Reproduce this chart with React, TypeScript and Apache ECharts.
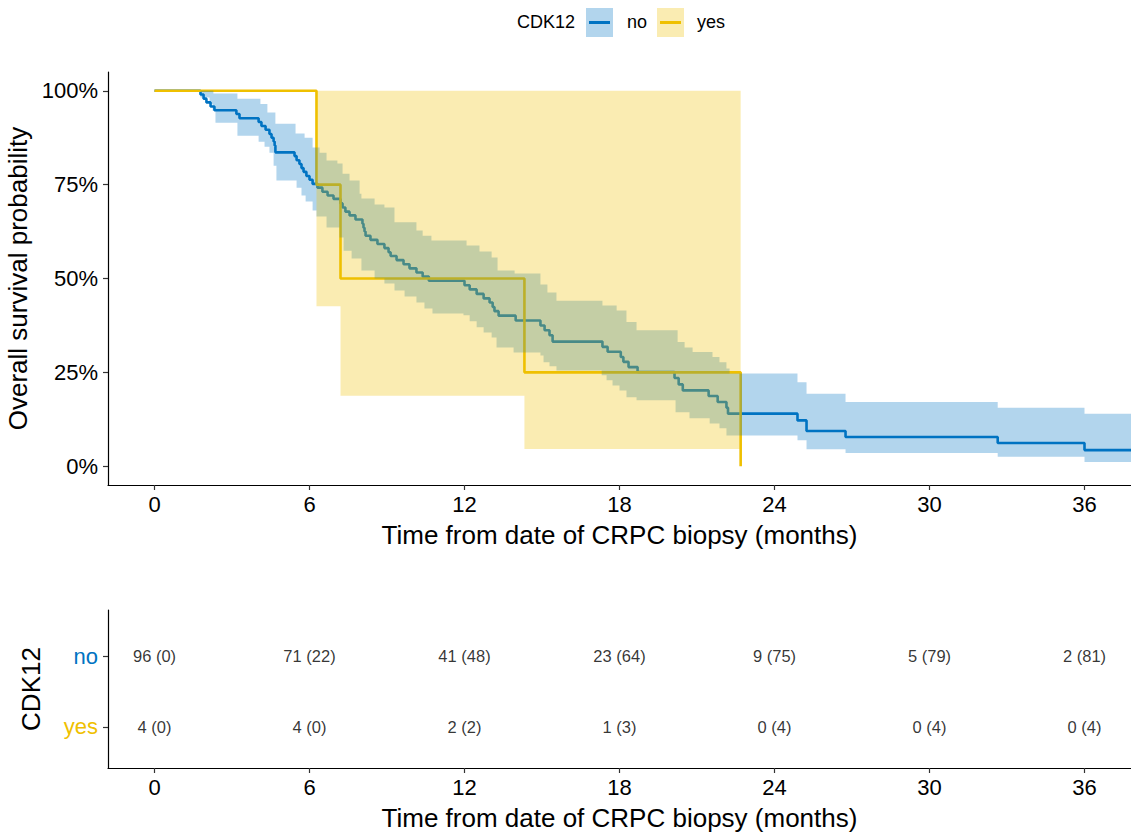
import React, { useEffect, useRef } from "react";
import * as echarts from "echarts";

// ---------- data ----------
const xTicks = [0, 6, 12, 18, 24, 30, 36];
const yTicks = [0, 0.25, 0.5, 0.75, 1];
const X_MIN = -1.8;
const X_MAX = 37.8;

const groupNames = ["no", "yes"];
const groupColors = ["#0073C2", "#EFC000"];
const bandColors = ["rgba(0,115,194,0.3)", "rgba(239,192,0,0.3)"];

// Kaplan-Meier curve, CDK12 = no : [months, survival]
const noCurve = [
  [0, 1], [1.78, 0.99], [1.9, 0.979], [2.01, 0.969], [2.17, 0.958], [2.32, 0.948],
  [3.17, 0.938], [3.29, 0.927], [4.03, 0.917], [4.14, 0.906], [4.3, 0.896], [4.45, 0.885],
  [4.53, 0.875], [4.61, 0.865], [4.65, 0.854], [4.68, 0.836], [5.42, 0.826], [5.5, 0.815],
  [5.61, 0.805], [5.69, 0.794], [5.77, 0.784], [5.88, 0.773], [6.0, 0.763], [6.12, 0.752],
  [6.31, 0.742], [6.5, 0.731], [6.7, 0.721], [6.93, 0.712], [7.2, 0.7], [7.28, 0.689],
  [7.39, 0.678], [7.55, 0.668], [7.78, 0.657], [8.05, 0.646], [8.09, 0.635], [8.13, 0.625],
  [8.17, 0.614], [8.36, 0.603], [8.63, 0.592], [8.9, 0.581], [9.06, 0.57], [9.14, 0.56],
  [9.37, 0.549], [9.64, 0.538], [9.87, 0.527], [10.14, 0.516], [10.38, 0.505], [10.62, 0.494],
  [12.0, 0.482], [12.2, 0.471], [12.47, 0.459], [12.74, 0.447], [12.97, 0.436], [13.09, 0.424],
  [13.16, 0.413], [13.32, 0.401], [13.98, 0.388], [14.94, 0.375], [15.1, 0.362], [15.29, 0.349],
  [15.41, 0.332], [17.34, 0.318], [17.54, 0.305], [18.05, 0.291], [18.15, 0.278], [18.35, 0.264],
  [18.7, 0.251], [20.13, 0.235], [20.29, 0.218], [20.45, 0.202], [21.45, 0.187], [21.8, 0.171],
  [22.14, 0.156], [22.2, 0.14], [24.89, 0.122], [25.24, 0.094], [26.75, 0.078], [32.64, 0.062],
  [36.0, 0.043], [37.8, 0.043],
];
const noUpper = [
  [1.78, 1.0], [2.28, 0.993], [3.21, 0.979], [4.1, 0.965], [4.37, 0.942], [4.68, 0.912],
  [5.46, 0.886], [5.81, 0.875], [6.12, 0.849], [6.39, 0.835], [6.66, 0.814], [7.08, 0.806],
  [7.28, 0.779], [7.55, 0.761], [7.94, 0.726], [8.01, 0.713], [8.52, 0.697], [8.9, 0.689],
  [9.29, 0.65], [10.14, 0.628], [10.38, 0.614], [10.72, 0.601], [12.08, 0.588], [12.58, 0.572],
  [13.05, 0.556], [13.28, 0.521], [13.94, 0.513], [14.94, 0.484], [15.21, 0.463], [15.56, 0.441],
  [17.34, 0.428], [17.89, 0.415], [18.27, 0.384], [18.66, 0.362], [20.25, 0.331], [20.52, 0.316],
  [20.83, 0.304], [21.6, 0.291], [21.87, 0.277], [22.14, 0.26], [22.26, 0.247], [24.89, 0.224],
  [25.24, 0.193], [26.75, 0.171], [32.64, 0.156], [36.0, 0.14],
];
const noLower = [
  [1.78, 0.982], [2.13, 0.965], [2.25, 0.947], [2.36, 0.915], [3.21, 0.88], [4.03, 0.864],
  [4.26, 0.851], [4.45, 0.835], [4.61, 0.8], [4.72, 0.761], [5.5, 0.742], [5.69, 0.721],
  [5.85, 0.705], [6.12, 0.681], [6.27, 0.665], [6.66, 0.636], [7.16, 0.609], [7.32, 0.574],
  [7.63, 0.553], [8.01, 0.521], [8.52, 0.5], [8.9, 0.487], [9.29, 0.468], [9.68, 0.452],
  [10.14, 0.436], [10.45, 0.42], [10.76, 0.407], [11.96, 0.402], [12.2, 0.386], [12.47, 0.37],
  [12.74, 0.356], [13.05, 0.343], [13.24, 0.316], [13.9, 0.303], [14.94, 0.295], [15.06, 0.277],
  [15.29, 0.266], [15.56, 0.255], [17.31, 0.242], [17.5, 0.229], [17.73, 0.215], [18.0, 0.202],
  [18.27, 0.184], [18.66, 0.176], [20.17, 0.144], [20.71, 0.128], [21.49, 0.114], [21.87, 0.101],
  [22.14, 0.082], [24.89, 0.069], [25.24, 0.045], [26.75, 0.035], [32.64, 0.025], [36.0, 0.011],
];
const noBandEnd = 37.8;

// Kaplan-Meier curve, CDK12 = yes
const yesCurve = [[0, 1], [6.27, 0.75], [7.2, 0.5], [14.32, 0.25], [22.69, 0]];
const yesUpper = [[6.27, 1], [7.2, 1], [14.32, 1]];
const yesLower = [[6.27, 0.426], [7.2, 0.188], [14.32, 0.046]];
const yesBandEnd = 22.69;

// number at risk (cumulative events)
const noAtRisk = [96, 71, 41, 23, 9, 5, 2];
const noEvents = [0, 22, 48, 64, 75, 79, 81];
const yesAtRisk = [4, 4, 2, 1, 0, 0, 0];
const yesEvents = [0, 0, 2, 3, 4, 4, 4];

const xTitle = "Time from date of CRPC biopsy (months)";
const yTitle = "Overall survival probability";
const strataTitle = "CDK12";

// ---------- helpers ----------
function stepPoints(arr: number[][], end: number) {
  const pts: number[][] = [];
  for (let i = 0; i < arr.length; i++) {
    const [t, v] = arr[i];
    const next = i + 1 < arr.length ? arr[i + 1][0] : end;
    pts.push([t, v]);
    pts.push([next, v]);
  }
  return pts;
}

function bandSeries(upper: number[][], lower: number[][], end: number, fill: string) {
  return {
    type: "custom",
    xAxisIndex: 0,
    yAxisIndex: 0,
    z: 3,
    silent: true,
    data: [[upper[0][0], upper[0][1]]],
    renderItem: (_params: any, api: any) => {
      const up = stepPoints(upper, end).map((p) => api.coord(p));
      const lo = stepPoints(lower, end).map((p) => api.coord(p)).reverse();
      return {
        type: "polygon",
        shape: { points: up.concat(lo) },
        style: { fill, stroke: "none" },
      };
    },
  };
}

const FONT = "'Liberation Sans', Arial, sans-serif";

export default function App() {
  const ref = useRef<HTMLDivElement>(null);
  useEffect(() => {
    document.body.style.margin = "0";
    const chart = echarts.init(ref.current!, null, { renderer: "svg" });
    const axisLine = { show: true, onZero: false, lineStyle: { color: "#000", width: 1.2 } };
    const axisTick = { show: true, length: 5, lineStyle: { color: "#333", width: 1.2 } };
    const riskRow = (atRisk: number[], events: number[], row: number) =>
      xTicks.map((t, i) => [t, row, `${atRisk[i]} (${events[i]})`]);
    const xLabel = { customValues: xTicks, fontSize: 22, color: "#000", margin: 8, fontFamily: FONT };
    const nameStyle = { fontSize: 26, color: "#000", fontFamily: FONT };

    const option: any = {
      animation: false,
      textStyle: { fontFamily: FONT },
      grid: [
        { left: 108, top: 72, width: 1023, height: 413, outerBoundsMode: "none", containLabel: false },
        { left: 108, top: 610, width: 1023, height: 158, outerBoundsMode: "none", containLabel: false },
      ],
      xAxis: [
        {
          type: "value", gridIndex: 0, min: X_MIN, max: X_MAX,
          axisLine, axisTick: { ...axisTick, customValues: xTicks },
          splitLine: { show: false }, axisLabel: xLabel,
          name: xTitle, nameLocation: "middle", nameGap: 37, nameTextStyle: nameStyle,
        },
        {
          type: "value", gridIndex: 1, min: X_MIN, max: X_MAX,
          axisLine, axisTick: { ...axisTick, customValues: xTicks },
          splitLine: { show: false }, axisLabel: xLabel,
          name: xTitle, nameLocation: "middle", nameGap: 37, nameTextStyle: nameStyle,
        },
      ],
      yAxis: [
        {
          type: "value", gridIndex: 0, min: -0.05, max: 1.05,
          axisLine, axisTick: { ...axisTick, customValues: yTicks },
          splitLine: { show: false },
          axisLabel: {
            customValues: yTicks, fontSize: 22, color: "#000", margin: 10, fontFamily: FONT,
            formatter: (v: number) => `${Math.round(v * 100)}%`,
          },
          name: yTitle, nameLocation: "middle", nameGap: 72, nameTextStyle: nameStyle,
        },
        {
          type: "value", gridIndex: 1, min: 0.42, max: 2.65,
          axisLine, axisTick: { ...axisTick, customValues: [1, 2] },
          splitLine: { show: false },
          axisLabel: {
            customValues: [1, 2], fontSize: 22, margin: 10, fontFamily: FONT,
            formatter: (v: number) => (v === 2 ? groupNames[0] : groupNames[1]),
            color: (v: any) => (Number(v) === 2 ? groupColors[0] : groupColors[1]),
          },
          name: strataTitle, nameLocation: "middle", nameGap: 64, nameTextStyle: nameStyle,
        },
      ],
      series: [
        {
          type: "line", name: groupNames[0], xAxisIndex: 0, yAxisIndex: 0, z: 2,
          step: "end", symbol: "none", data: noCurve,
          lineStyle: { color: groupColors[0], width: 2.6 }, itemStyle: { color: groupColors[0] },
        },
        {
          type: "line", name: groupNames[1], xAxisIndex: 0, yAxisIndex: 0, z: 2,
          step: "end", symbol: "none", data: yesCurve,
          lineStyle: { color: groupColors[1], width: 2.6 }, itemStyle: { color: groupColors[1] },
        },
        bandSeries(noUpper, noLower, noBandEnd, bandColors[0]),
        bandSeries(yesUpper, yesLower, yesBandEnd, bandColors[1]),
        {
          type: "scatter", xAxisIndex: 1, yAxisIndex: 1, symbolSize: 1,
          itemStyle: { color: "transparent" },
          data: [...riskRow(noAtRisk, noEvents, 2), ...riskRow(yesAtRisk, yesEvents, 1)],
          label: {
            show: true, position: "inside", fontSize: 16.5, color: "#000", fontFamily: FONT,
            formatter: (p: any) => p.value[2],
          },
        },
      ],
      graphic: [
        { type: "text", x: 575, y: 22, style: { text: strataTitle, fontSize: 18, fill: "#000", align: "right", verticalAlign: "middle", fontFamily: FONT } },
        { type: "rect", x: 586, y: 8, shape: { x: 0, y: 0, width: 27, height: 29 }, style: { fill: bandColors[0] } },
        { type: "line", shape: { x1: 589, y1: 22.5, x2: 610, y2: 22.5 }, style: { stroke: groupColors[0], lineWidth: 3 } },
        { type: "text", x: 627, y: 22, style: { text: groupNames[0], fontSize: 18, fill: "#000", align: "left", verticalAlign: "middle", fontFamily: FONT } },
        { type: "rect", x: 657, y: 8, shape: { x: 0, y: 0, width: 27, height: 29 }, style: { fill: bandColors[1] } },
        { type: "line", shape: { x1: 660, y1: 22.5, x2: 681, y2: 22.5 }, style: { stroke: groupColors[1], lineWidth: 3 } },
        { type: "text", x: 697, y: 22, style: { text: groupNames[1], fontSize: 18, fill: "#000", align: "left", verticalAlign: "middle", fontFamily: FONT } },
      ],
    };
    chart.setOption(option);
    return () => chart.dispose();
  }, []);
  return <div ref={ref} style={{ width: 1131, height: 832 }} />;
}
